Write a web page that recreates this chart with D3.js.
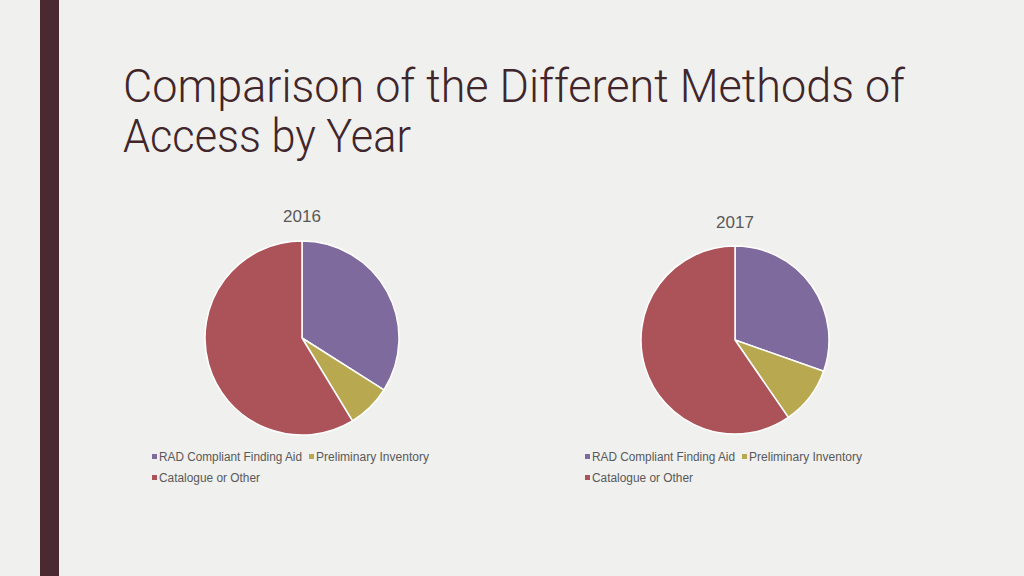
<!DOCTYPE html>
<html><head><meta charset="utf-8">
<script src="https://cdn.jsdelivr.net/npm/d3@7"></script>
<style>html,body{margin:0;padding:0;background:#f0efed;}svg{display:block;}</style>
</head><body>
<script>
const categories = ["RAD Compliant Finding Aid", "Preliminary Inventory", "Catalogue or Other"];
const years = ["2016", "2017"];
const values2016 = [34, 7.3, 58.7];
const values2017 = [30.4, 10, 59.6];
const colors = ["#7f6a9e", "#b8a84f", "#ab5359"];
const titleLines = ["Comparison of the Different Methods of", "Access by Year"];

const W = 1024, H = 576;
const svg = d3.select("body").append("svg").attr("width", W).attr("height", H);
svg.append("rect").attr("width", W).attr("height", H).attr("fill", "#f0f0ee");
svg.append("rect").attr("x", 40).attr("y", 0).attr("width", 19).attr("height", H).attr("fill", "#4a2a30");

const title = svg.append("g");
titleLines.forEach((t, i) => {
  const el = title.append("text").attr("x", 123).attr("y", 102 + i * 50)
    .attr("font-family", "Roboto,'Liberation Sans Narrow',sans-serif").attr("font-weight", 300)
    .attr("font-size", 47).attr("fill", "#40262b").text(t);
  el.attr("textLength", i === 0 ? 782 : 288).attr("lengthAdjust", "spacingAndGlyphs");
});

const color = d3.scaleOrdinal().domain(categories).range(colors);
const pies = [
  {year: years[0], vals: values2016, cx: 302, cy: 338, r: 97, ty: 222, lx: 152},
  {year: years[1], vals: values2017, cx: 735, cy: 340, r: 94, ty: 228, lx: 585}
];
const pie = d3.pie().sort(null).value(d => d.v);
pies.forEach(p => {
  const g = svg.append("g").attr("transform", `translate(${p.cx},${p.cy})`);
  const arc = d3.arc().innerRadius(0).outerRadius(p.r);
  g.selectAll("path").data(pie(categories.map((c, i) => ({c, v: p.vals[i]})))).join("path")
    .attr("d", arc).attr("fill", d => color(d.data.c)).attr("stroke", "#ffffff").attr("stroke-width", 1.5);
  svg.append("text").attr("x", p.cx).attr("y", p.ty).attr("text-anchor", "middle")
    .attr("font-family", "'Liberation Sans','DejaVu Sans',sans-serif").attr("font-size", 17).attr("fill", "#595959").text(p.year);
  const lg = svg.append("g").attr("font-family", "'Liberation Sans','DejaVu Sans',sans-serif").attr("font-size", 12).attr("fill", "#595959");
  const pos = [[p.lx, 461], [p.lx + 157, 461], [p.lx, 482]];
  const widths = [143, 113, 101];
  categories.forEach((c, i) => {
    lg.append("rect").attr("x", pos[i][0]).attr("y", pos[i][1] - 7).attr("width", 5).attr("height", 5).attr("fill", colors[i]);
    lg.append("text").attr("x", pos[i][0] + 7).attr("y", pos[i][1]).attr("textLength", widths[i]).attr("lengthAdjust", "spacingAndGlyphs").text(c);
  });
});
</script>
</body></html>
